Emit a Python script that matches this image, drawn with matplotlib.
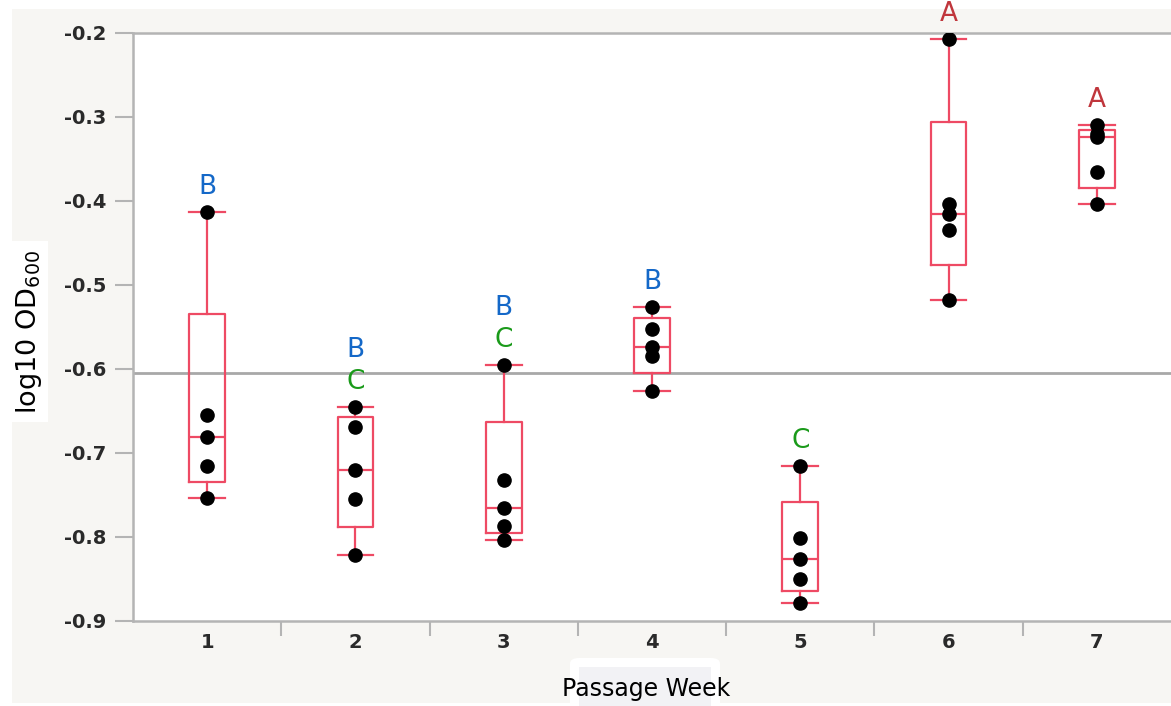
import numpy as np
import matplotlib.pyplot as plt
from matplotlib.patches import Rectangle, FancyBboxPatch
from matplotlib.ticker import FixedLocator

# log10 OD600 readings per passage week (five replicates each)
weeks = [1, 2, 3, 4, 5, 6, 7]
week_labels = ["1", "2", "3", "4", "5", "6", "7"]
od_week1 = [-0.413, -0.655, -0.681, -0.716, -0.754]
od_week2 = [-0.645, -0.669, -0.720, -0.755, -0.822]
od_week3 = [-0.595, -0.732, -0.766, -0.787, -0.803]
od_week4 = [-0.526, -0.552, -0.574, -0.584, -0.626]
od_week5 = [-0.716, -0.801, -0.826, -0.850, -0.878]
od_week6 = [-0.207, -0.404, -0.416, -0.434, -0.518]
od_week7 = [-0.310, -0.320, -0.324, -0.365, -0.404]

# Connecting-letters groups, listed from the lowest letter upward
group_letters = [["B"], ["C", "B"], ["C", "B"], ["B"], ["C"], ["A"], ["A"]]

y_ticks = [-0.9, -0.8, -0.7, -0.6, -0.5, -0.4, -0.3, -0.2]

groups = [od_week1, od_week2, od_week3, od_week4, od_week5, od_week6, od_week7]
letter_colors = {"A": "#c0363c", "B": "#1468c8", "C": "#1a9a1a"}
box_color = "#ee4a64"
grid_gray = "#b4b4b4"
panel_gray = "#f7f6f3"

W, H = 1171, 706
fig = plt.figure(figsize=(W / 100, H / 100), dpi=100, facecolor="white")


def fx(px):
    return px / W


def fy(py):
    return 1 - py / H


# light panel behind the whole report
fig.patches.append(Rectangle((fx(12), fy(703)), fx(W) - fx(12), fy(9) - fy(703),
                             transform=fig.transFigure, facecolor=panel_gray,
                             edgecolor="none", zorder=-3))
# white plate behind the y-axis title
fig.patches.append(Rectangle((fx(12), fy(422)), fx(48) - fx(12), fy(241) - fy(422),
                             transform=fig.transFigure, facecolor="white",
                             edgecolor="none", zorder=-2))
# framed plate behind the x-axis title
fig.patches.append(FancyBboxPatch((fx(570), fy(716)), fx(720) - fx(570), fy(658) - fy(716),
                                  boxstyle="round,pad=0,rounding_size=0.008",
                                  transform=fig.transFigure, facecolor="white",
                                  edgecolor="none", zorder=-2))
fig.patches.append(Rectangle((fx(579), fy(706)), fx(711) - fx(579), fy(667) - fy(706),
                             transform=fig.transFigure, facecolor="#f2f2f5",
                             edgecolor="none", zorder=-1))

ax = fig.add_axes([fx(133), fy(621), fx(W) - fx(133), fy(33) - fy(621)])
ax.set_facecolor("white")
ax.set_xlim(0.5, 7.5)
ax.set_ylim(-0.9, -0.2)

# grand mean reference line
grand_mean = np.mean(np.concatenate([np.asarray(g) for g in groups]))
ax.axhline(grand_mean, color="#a8a8a8", lw=2.0, zorder=1)

# box statistics (quantiles at (n+1)p)
stats = []
for w, vals in zip(weeks, groups):
    v = np.asarray(vals)
    q1, med, q3 = np.percentile(v, [25, 50, 75], method="weibull")
    iqr = q3 - q1
    lo = v[v >= q1 - 1.5 * iqr].min()
    hi = v[v <= q3 + 1.5 * iqr].max()
    stats.append(dict(med=med, q1=q1, q3=q3, whislo=lo, whishi=hi, fliers=[]))

line_kw = dict(color=box_color, linewidth=1.6)
ax.bxp(stats, positions=weeks, widths=0.24, capwidths=0.24, showfliers=False,
       boxprops=line_kw, whiskerprops=line_kw, capprops=line_kw,
       medianprops=line_kw, manage_ticks=False, zorder=2)

for w, vals in zip(weeks, groups):
    ax.plot(np.full(len(vals), w), vals, "o", color="black", ms=9.5,
            mec="black", zorder=3)

for w, vals, letters in zip(weeks, groups, group_letters):
    top = max(vals)
    for i, letter in enumerate(letters):
        ax.annotate(letter, (w, top), xytext=(0, 18 + 23 * i),
                    textcoords="offset points", ha="center", va="center",
                    fontsize=19, color=letter_colors[letter],
                    annotation_clip=False, zorder=4)

# axes frame
for side in ["left", "bottom", "top"]:
    ax.spines[side].set_color(grid_gray)
    ax.spines[side].set_linewidth(1.8)
ax.spines["right"].set_visible(False)

tick_font = dict(family="DejaVu Sans", weight="bold", size=14)

ax.yaxis.set_major_locator(FixedLocator(y_ticks))
ax.set_yticklabels([f"{v:.1f}" for v in y_ticks], fontdict=tick_font)
ax.tick_params(axis="y", length=13, width=1.5, color=grid_gray, pad=6,
               labelcolor="#2a2a2a")

ax.set_xticks(weeks)
ax.set_xticklabels(week_labels, fontdict=tick_font)
ax.set_xticks([w + 0.5 for w in weeks[:-1]], minor=True)
ax.tick_params(axis="x", which="major", length=0, pad=9, labelcolor="#2a2a2a")
ax.tick_params(axis="x", which="minor", length=11, width=1.5, color=grid_gray)

fig.text(fx(29), fy(332), r"log10 OD$_{600}$", rotation=90, ha="center",
         va="center", fontsize=19.5, color="black", zorder=5)
fig.text(fx(646), fy(689), "Passage Week", ha="center", va="center",
         fontsize=17, color="black", zorder=5)

fig.savefig("out.png", dpi=100, facecolor=fig.get_facecolor())
